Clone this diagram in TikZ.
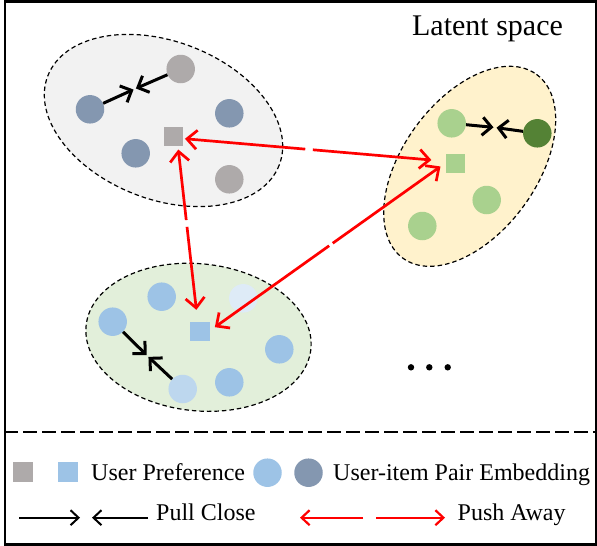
\documentclass[tikz,border=0pt]{standalone}
\usepackage{fontspec}
\setmainfont{Liberation Serif}
\usetikzlibrary{arrows.meta,calc}

\definecolor{grayfill}{HTML}{F2F2F2}
\definecolor{yellowfill}{HTML}{FFF2CC}
\definecolor{greenfill}{HTML}{E2EFDA}
\definecolor{itemgray}{HTML}{AEAAAA}
\definecolor{itemslate}{HTML}{8497B0}
\definecolor{itemgreen}{HTML}{A9D18E}
\definecolor{itemdkgreen}{HTML}{548235}
\definecolor{itemblue}{HTML}{9DC3E6}
\definecolor{itemltblue}{HTML}{BDD7EE}
\definecolor{itempale}{HTML}{DEEBF7}

\tikzset{
	emb/.style={circle, minimum size=28.5pt, inner sep=0pt, fill=#1},
	pref/.style={rectangle, minimum size=19.5pt, inner sep=0pt, fill=#1},
	cluster/.style={draw=black, line width=1.2pt, dash pattern=on 4.5pt off 3pt, fill=#1},
	pull/.style={-{Straight Barb[length=9pt,width=18pt]}, line width=3pt, black},
	push/.style={-{Straight Barb[length=10pt,width=19pt]}, line width=2.7pt, red},
	pullkey/.style={-{Straight Barb[length=8pt,width=15pt]}, line width=2pt, black},
	pushkey/.style={-{Straight Barb[length=8pt,width=15pt]}, line width=2.2pt, red},
	headtext/.style={inner sep=0pt, font=\fontsize{30}{36}\selectfont},
	keytext/.style={inner sep=0pt, anchor=base west, font=\fontsize{24}{29}\selectfont}
}

\begin{document}
\begin{tikzpicture}[x=1pt,y=-1pt]

	\useasboundingbox (0,0) rectangle (597,546);

	% frame
	\draw[line width=2.5pt] (5.2,1.3) rectangle (596.5,544.3);
	\draw[line width=2pt, dash pattern=on 14pt off 5pt] (4,431.8) -- (597,431.8);

	\node[headtext, anchor=base] (space) at (487.5,35) {Latent space};

	% clusters
	\path[cluster=grayfill, rotate around={-21:(163.5,120.5)}] (163.5,120.5) ellipse (124 and 79);
	\path[cluster=yellowfill, rotate around={54:(469.7,166.3)}] (469.7,166.3) ellipse (113.6 and 67);
	\path[cluster=greenfill, rotate around={-6:(198.5,337.3)}] (198.5,337.3) ellipse (113 and 73.5);

	% gray cluster
	\node[emb=itemgray] (g1) at (180.7,69) {};
	\node[emb=itemslate] (g2) at (90,109.3) {};
	\node[emb=itemslate] (g3) at (229.3,113.3) {};
	\node[emb=itemslate] (g4) at (135.7,153.3) {};
	\node[emb=itemgray] (g5) at (229.3,179.3) {};
	\node[pref=itemgray] (gp) at (173.3,136.3) {};

	\coordinate (gm) at (134.7,89);
	\draw[pull, shorten >=1.3pt] (g2) -- (gm);
	\draw[pull, shorten >=1.3pt] (g1) -- (gm);

	% yellow cluster
	\node[emb=itemgreen] (y1) at (451.7,123.3) {};
	\node[emb=itemdkgreen] (y2) at (537.3,133.3) {};
	\node[emb=itemgreen] (y3) at (486.7,200) {};
	\node[emb=itemgreen] (y4) at (422.3,226) {};
	\node[pref=itemgreen] (yp) at (455.3,163.7) {};

	\coordinate (ym) at (495,127.5);
	\draw[pull, shorten >=1.5pt] (y1) -- (ym);
	\draw[pull, shorten >=1.5pt] (y2) -- (ym);

	% green cluster
	\node[emb=itemblue] (b1) at (161.7,296.7) {};
	\node[emb=itempale] (b2) at (243.3,298.3) {};
	\node[emb=itemblue] (b3) at (112.7,321.7) {};
	\node[emb=itemblue] (b4) at (279.3,349.3) {};
	\node[emb=itemblue] (b5) at (229.3,382.3) {};
	\node[emb=itemltblue] (b6) at (182.7,389) {};
	\node[pref=itemblue] (bp) at (200,331.7) {};

	\coordinate (bm) at (147.5,356);
	\draw[pull, shorten >=1.3pt] (b3) -- (bm);
	\draw[pull, shorten >=1.3pt] (b6) -- (bm);

	% push away
	\path (gp.-13) -- coordinate[pos=0.48] (pm1) (yp.166);
	\draw[push, shorten <=3.8pt, shorten >=1.7pt] (pm1) -- (gp.-13);
	\draw[push, shorten <=3.8pt, shorten >=14pt] (pm1) -- (yp.166);

	\path (gp.-65) -- coordinate[pos=0.44] (pm2) (bp.103);
	\draw[push, shorten <=3.4pt, shorten >=3.3pt] (pm2) -- (gp.-65);
	\draw[push, shorten <=3.4pt, shorten >=12pt] (pm2) -- (bp.103);

	\path (bp.6) -- coordinate[pos=0.514] (pm3) (yp.176);
	\draw[push, shorten <=2.2pt, shorten >=6pt] (pm3) -- (bp.6);
	\draw[push, shorten <=2.2pt, shorten >=6pt] (pm3) -- (yp.176);

	\foreach \x in {411,429.3,447.7}
		\fill (\x,367.3) circle (3.2pt);

	% legend
	\node[pref=itemgray] (kg) at (23,472) {};
	\node[pref=itemblue] (kb) at (68,472) {};
	\node[keytext] (kpref) at (91,480) {User Preference};
	\node[emb=itemblue] (kc1) at (267.5,472.7) {};
	\node[emb=itemslate] (kc2) at (308.5,472.7) {};
	\node[keytext] (kpair) at (333,480) {User-item Pair Embedding};

	\coordinate (ka1) at (19,517.7);
	\coordinate (ka2) at (80,517.7);
	\coordinate (ka3) at (148,517.7);
	\coordinate (ka4) at (92,517.7);
	\draw[pullkey] (ka1) -- (ka2);
	\draw[pullkey] (ka3) -- (ka4);
	\node[keytext] (kpull) at (156,520.5) {Pull Close};

	\coordinate (kr1) at (363,517.7);
	\coordinate (kr2) at (300,517.7);
	\coordinate (kr3) at (376,517.7);
	\coordinate (kr4) at (445,517.7);
	\draw[pushkey] (kr1) -- (kr2);
	\draw[pushkey] (kr3) -- (kr4);
	\node[keytext] (kpush) at (457.5,520.5) {Push Away};

\end{tikzpicture}
\end{document}
